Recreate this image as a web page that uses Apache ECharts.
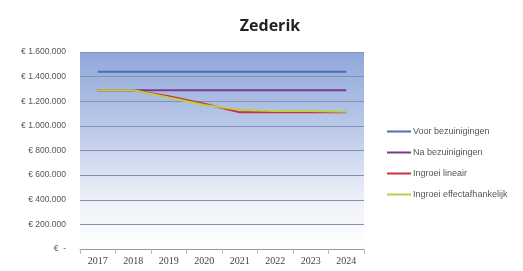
<!DOCTYPE html>
<html>
<head>
<meta charset="utf-8">
<script src="https://cdn.jsdelivr.net/npm/echarts@6/dist/echarts.min.js"></script>
<style>
  html, body { margin: 0; padding: 0; background: #fff; }
  #chart { width: 523px; height: 271px; }
</style>
</head>
<body>
<div id="chart"></div>
<script>
const years = ['2017', '2018', '2019', '2020', '2021', '2022', '2023', '2024'];
const yTicks = [0, 200000, 400000, 600000, 800000, 1000000, 1200000, 1400000, 1600000];

const voorBezuinigingen = [1440000, 1440000, 1440000, 1440000, 1440000, 1440000, 1440000, 1440000];
const naBezuinigingen = [1290000, 1290000, 1290000, 1290000, 1290000, 1290000, 1290000, 1290000];
const ingroeiLineair = [1290000, 1290000, 1240000, 1180000, 1110000, 1110000, 1110000, 1110000];
const ingroeiEffect = [1290000, 1290000, 1230000, 1170000, 1130000, 1120000, 1120000, 1115000];

const chart = echarts.init(document.getElementById('chart'));

function euro(v) {
    if (v === 0) return '€  -';
    return '€ ' + String(v).replace(/\B(?=(\d{3})+(?!\d))/g, '.');
}

function line(name, data, color) {
    return {
        name: name,
        type: 'line',
        data: data,
        symbol: 'none',
        lineStyle: { color: color, width: 2 },
        itemStyle: { color: color }
    };
}

chart.setOption({
    animation: false,
    title: {
        text: 'Zederik',
        left: 265,
        textAlign: 'center',
        top: 13,
        textStyle: { fontFamily: 'Open Sans', fontSize: 16, fontWeight: 'bold', color: '#222' }
    },
    grid: {
        left: 80, right: 159, top: 52, bottom: 22,
        show: true,
        borderWidth: 0,
        backgroundColor: new echarts.graphic.LinearGradient(0, 0, 0, 1, [
            { offset: 0, color: '#8fa7da' },
            { offset: 0.45, color: '#c3cfeb' },
            { offset: 0.75, color: '#eef1f8' },
            { offset: 1, color: '#ffffff' }
        ])
    },
    legend: {
        orient: 'vertical',
        left: 382,
        top: 122,
        itemWidth: 24,
        itemHeight: 2,
        itemGap: 12,
        icon: 'rect',
        textStyle: { fontFamily: 'Liberation Sans', fontSize: 9, color: '#555', padding: [0, 0, 0, -3] }
    },
    xAxis: {
        type: 'category',
        data: years,
        boundaryGap: true,
        axisLine: { lineStyle: { color: '#999' } },
        axisTick: { show: true, lineStyle: { color: '#bbb' } },
        axisLabel: { fontFamily: 'Liberation Serif', fontSize: 10, color: '#444', margin: 7 }
    },
    yAxis: {
        type: 'value',
        min: yTicks[0],
        max: yTicks[yTicks.length - 1],
        interval: yTicks[1] - yTicks[0],
        axisLine: { show: false },
        axisTick: { show: false },
        splitLine: { lineStyle: { color: '#8690b2', width: 1 } },
        axisLabel: {
            fontFamily: 'Liberation Sans', fontSize: 8.5, color: '#555', margin: 14,
            formatter: euro
        }
    },
    series: [
        line('Voor bezuinigingen', voorBezuinigingen, '#4a6fb5'),
        line('Na bezuinigingen', naBezuinigingen, '#7d3a8c'),
        line('Ingroei lineair', ingroeiLineair, '#c8343c'),
        line('Ingroei effectafhankelijk', ingroeiEffect, '#b9cf4a')
    ]
});
</script>
</body>
</html>
